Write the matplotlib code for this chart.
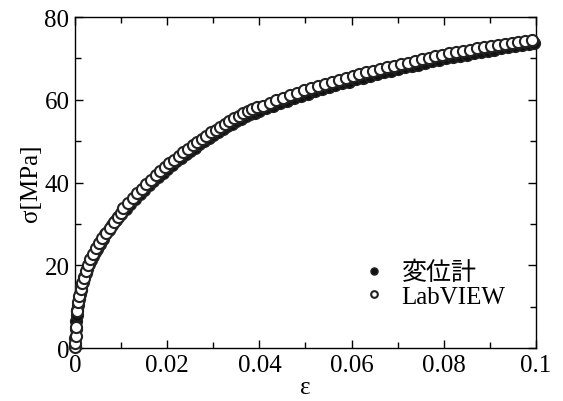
import matplotlib
matplotlib.use("Agg")
import matplotlib.pyplot as plt
from matplotlib.ticker import MultipleLocator

plt.rcParams['font.family'] = ['Liberation Serif', 'Noto Sans CJK JP']

# 変位計 (filled markers)
eps_d = [0.0000, 0.0001, 0.0002, 0.0003, 0.0004, 0.0005, 0.0006, 0.0008, 0.0010, 0.0012,
         0.0014, 0.0017, 0.0020, 0.0023, 0.0026, 0.0030, 0.0034, 0.0038, 0.0043, 0.0048,
         0.0054, 0.0060, 0.0066, 0.0073, 0.0080, 0.0088, 0.0094,
         0.0100, 0.0110, 0.0120, 0.0130, 0.0140, 0.0150, 0.0160, 0.0170, 0.0180, 0.0190,
         0.0200, 0.0210, 0.0220, 0.0230, 0.0240, 0.0250, 0.0260, 0.0270, 0.0280, 0.0290,
         0.0300, 0.0310, 0.0320, 0.0330, 0.0340, 0.0350, 0.0360, 0.0370, 0.0380, 0.0390,
         0.0400, 0.0415, 0.0430, 0.0445, 0.0460, 0.0475, 0.0490, 0.0505, 0.0520, 0.0535,
         0.0550, 0.0565, 0.0580, 0.0595, 0.0610, 0.0625, 0.0640, 0.0655, 0.0670, 0.0685,
         0.0700, 0.0715, 0.0730, 0.0745, 0.0760, 0.0775, 0.0790, 0.0805, 0.0820, 0.0835,
         0.0850, 0.0865, 0.0880, 0.0895, 0.0910, 0.0925, 0.0940, 0.0955, 0.0970, 0.0985,
         0.0995]
sig_d = [0.5, 2.5, 4.5, 6.5, 8.0, 9.2, 10.3, 11.8, 13.0, 14.0,
         14.9, 16.0, 17.1, 18.1, 19.0, 20.2, 21.3, 22.3, 23.1, 24.0,
         25.2, 26.4, 27.5, 28.6, 29.7, 30.9, 31.7,
         32.5, 33.7, 34.9, 36.1, 37.2, 38.3, 39.4, 40.4, 41.4, 42.4,
         43.3, 44.2, 45.1, 46.0, 46.8, 47.6, 48.4, 49.2, 50.0, 50.7,
         51.5, 52.2, 52.9, 53.6, 54.2, 54.8, 55.4, 56.0, 56.5, 56.9,
         57.3, 58.0, 58.6, 59.2, 59.8, 60.4, 61.0, 61.5, 62.0, 62.5,
         63.0, 63.5, 64.0, 64.4, 64.9, 65.3, 65.8, 66.2, 66.6, 67.0,
         67.4, 67.8, 68.2, 68.5, 68.9, 69.3, 69.6, 70.0, 70.3, 70.6,
         70.9, 71.2, 71.5, 71.8, 72.1, 72.4, 72.7, 73.0, 73.2, 73.5,
         73.8]

# LabVIEW (open markers)
eps_l = [0.0000, 0.0001, 0.0002, 0.0003, 0.0005, 0.0007, 0.0009, 0.0012, 0.0015, 0.0019,
         0.0023, 0.0028, 0.0033, 0.0039, 0.0045, 0.0052, 0.0059, 0.0067, 0.0075, 0.0084,
         0.0093, 0.0099,
         0.0105, 0.0115, 0.0125, 0.0135, 0.0145, 0.0155, 0.0165, 0.0175, 0.0185, 0.0195,
         0.0205, 0.0215, 0.0225, 0.0235, 0.0245, 0.0255, 0.0265, 0.0275, 0.0285, 0.0295,
         0.0305, 0.0315, 0.0325, 0.0335, 0.0345, 0.0355, 0.0365, 0.0375, 0.0385, 0.0395,
         0.0407, 0.0422, 0.0437, 0.0452, 0.0467, 0.0482, 0.0497, 0.0512, 0.0527, 0.0542,
         0.0557, 0.0572, 0.0587, 0.0602, 0.0617, 0.0632, 0.0647, 0.0662, 0.0677, 0.0692,
         0.0707, 0.0722, 0.0737, 0.0752, 0.0767, 0.0782, 0.0797, 0.0812, 0.0827, 0.0842,
         0.0857, 0.0872, 0.0887, 0.0902, 0.0917, 0.0932, 0.0947, 0.0962, 0.0977, 0.0992]
sig_l = [0.3, 1.2, 2.8, 5.0, 9.0, 11.2, 12.6, 14.2, 15.6, 17.0,
         18.5, 20.0, 21.4, 22.8, 24.1, 25.4, 26.6, 27.8, 29.0, 30.4,
         31.7, 32.6,
         33.9, 35.1, 36.3, 37.4, 38.5, 39.6, 40.7, 41.7, 42.7, 43.7,
         44.6, 45.5, 46.4, 47.3, 48.1, 49.0, 49.8, 50.6, 51.3, 52.1,
         52.8, 53.5, 54.2, 54.9, 55.5, 56.1, 56.7, 57.3, 57.8, 58.3,
         58.6, 59.3, 59.9, 60.5, 61.1, 61.7, 62.3, 62.8, 63.3, 63.8,
         64.3, 64.8, 65.3, 65.7, 66.2, 66.6, 67.0, 67.4, 67.8, 68.2,
         68.6, 69.0, 69.4, 69.8, 70.1, 70.5, 70.8, 71.2, 71.5, 71.8,
         72.1, 72.4, 72.7, 73.0, 73.3, 73.5, 73.8, 74.0, 74.2, 74.4]

fig = plt.figure(figsize=(5.63, 4.02), dpi=100)
ax = fig.add_axes([0.1332, 0.1318, 0.8188, 0.8234])

ax.plot(eps_d, sig_d, 'o', color='#111111', markersize=8.5, mec='#222222', mew=1.0,
        label='変位計', clip_on=False, zorder=3)
ax.plot(eps_l, sig_l, 'o', color='white', markersize=8, mec='#222222', mew=1.5,
        label='LabVIEW', clip_on=False, zorder=4)

ax.set_xlim(0, 0.1)
ax.set_ylim(0, 80)
ax.set_xticks([0, 0.02, 0.04, 0.06, 0.08, 0.1])
ax.set_xticklabels(['0', '0.02', '0.04', '0.06', '0.08', '0.1'])
ax.xaxis.set_minor_locator(MultipleLocator(0.01))
ax.yaxis.set_major_locator(MultipleLocator(20))
ax.yaxis.set_minor_locator(MultipleLocator(10))
ax.tick_params(which='both', direction='in', top=True, right=True, labelsize=18, pad=4)
ax.tick_params(which='major', length=6, width=1)
ax.tick_params(which='minor', length=4, width=1)
for s in ax.spines.values():
    s.set_linewidth(1)

ax.set_xlabel('ε', fontsize=18, labelpad=0)
ax.set_ylabel('σ[MPa]', fontsize=18, labelpad=2)

leg = ax.legend(loc='lower left', bbox_to_anchor=(0.6, 0.09), frameon=False,
                fontsize=18, handlelength=1.0, handletextpad=0.6, markerscale=0.6,
                labelspacing=0.05, borderaxespad=0)

fig.savefig('out.png', dpi=100)
